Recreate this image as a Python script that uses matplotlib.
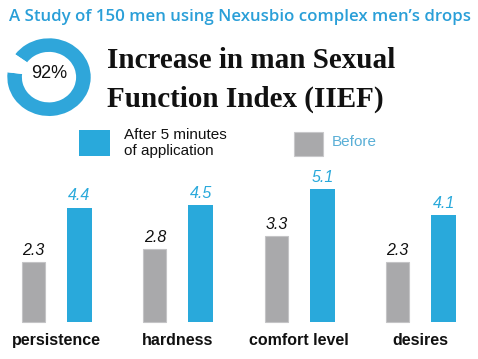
import matplotlib
matplotlib.use("Agg")
import matplotlib.pyplot as plt
from matplotlib.patches import Rectangle

# ---- data ----
categories = ["persistence", "hardness", "comfort level", "desires"]
before_vals = [2.3, 2.8, 3.3, 2.3]
after_vals = [4.4, 4.5, 5.1, 4.1]
before_labels = ["2.3", "2.8", "3.3", "2.3"]
after_labels = ["4.4", "4.5", "5.1", "4.1"]
donut_pct = 92
subtitle = "A Study of 150 men using Nexusbio complex men\u2019s drops"
title_lines = ["Increase in man Sexual", "Function Index (IIEF)"]
legend_after = "After 5 minutes\nof application"
legend_before = "Before"

BLUE = "#29a9db"
RING = "#2fa6da"
GRAY = "#a9a9ab"
LIGHTBLUE = "#5aafd6"

W, H = 478, 359
fig = plt.figure(figsize=(W / 100, H / 100), dpi=100)
fig.patch.set_facecolor("white")

def fx(px):
    return px / W

def fy(py):
    return 1 - py / H

# ---- bars axes ----
base_px = 322
px_per_unit = 26.0
grp_px = 121.4
first_center = 56.5
ax_top_px = 170
ax = fig.add_axes([0, fy(base_px), 1, (base_px - ax_top_px) / H])
ax.set_xlim(-first_center / grp_px, (W - first_center) / grp_px)
ax.set_ylim(0, (base_px - ax_top_px) / px_per_unit)
ax.axis("off")

off = 23 / grp_px
xs = list(range(len(categories)))
gb = ax.bar([x - off for x in xs], before_vals, width=23 / grp_px, color=GRAY,
            edgecolor="#c4c4c6", linewidth=0.8, clip_on=False)
ab = ax.bar([x + off for x in xs], after_vals, width=25 / grp_px, color=BLUE,
            clip_on=False)

for rect, lab in zip(gb, before_labels):
    ax.annotate(lab, (rect.get_x() + rect.get_width() / 2, rect.get_height()),
                xytext=(0, 3), textcoords="offset points", ha="center", va="bottom",
                fontsize=11.5, style="italic", color="#111111",
                family="Liberation Sans", annotation_clip=False)
for rect, lab in zip(ab, after_labels):
    ax.annotate(lab, (rect.get_x() + rect.get_width() / 2, rect.get_height()),
                xytext=(0, 3), textcoords="offset points", ha="center", va="bottom",
                fontsize=11.5, style="italic", color=BLUE,
                family="Liberation Sans", annotation_clip=False)

for x, cat in zip(xs, categories):
    ax.annotate(cat, (x, 0), xytext=(0, -13.5), textcoords="offset points",
                ha="center", va="center", fontsize=11.5, fontweight="bold",
                family="Liberation Sans", color="#111111", annotation_clip=False)

# ---- subtitle ----
fig.text(fx(240), fy(17), subtitle, ha="center", va="center", fontsize=12.2,
         fontweight="semibold", family="Open Sans", color="#2a9fd8")

# ---- title ----
fig.text(fx(107), fy(68), title_lines[0], ha="left", va="baseline", fontsize=21,
         fontweight="bold", family="Liberation Serif", color="#111111")
fig.text(fx(107), fy(107), title_lines[1], ha="left", va="baseline", fontsize=21,
         fontweight="bold", family="Liberation Serif", color="#111111")

# ---- donut ----
dax = fig.add_axes([fx(7.3), fy(116), (90.7 - 7.3) / W, (116 - 38.3) / H])
dax.pie([donut_pct, 100 - donut_pct], startangle=144, counterclock=False,
        colors=[RING, "white"], wedgeprops=dict(width=0.35, linewidth=0))
dax.set_aspect("auto")
dax.set_xlim(-1, 1)
dax.set_ylim(-1, 1)
dax.axis("off")
fig.text(fx(49), fy(73), f"{donut_pct}%", ha="center", va="center", fontsize=13,
         family="Liberation Sans", color="#111111")

# ---- legend ----
fig.patches.append(Rectangle((fx(79), fy(156)), 31 / W, 26 / H, transform=fig.transFigure,
                             facecolor=BLUE, edgecolor="none"))
fig.text(fx(124), fy(143), legend_after, ha="left", va="center", fontsize=11,
         family="Liberation Sans", color="#111111", linespacing=1.15)
fig.patches.append(Rectangle((fx(294), fy(156)), 29 / W, 24 / H, transform=fig.transFigure,
                             facecolor=GRAY, edgecolor="#c8c8ca", linewidth=0.8))
fig.text(fx(332), fy(142), legend_before, ha="left", va="center", fontsize=11,
         family="Liberation Sans", color=LIGHTBLUE)

fig.savefig("out.png", dpi=100, facecolor="white")
